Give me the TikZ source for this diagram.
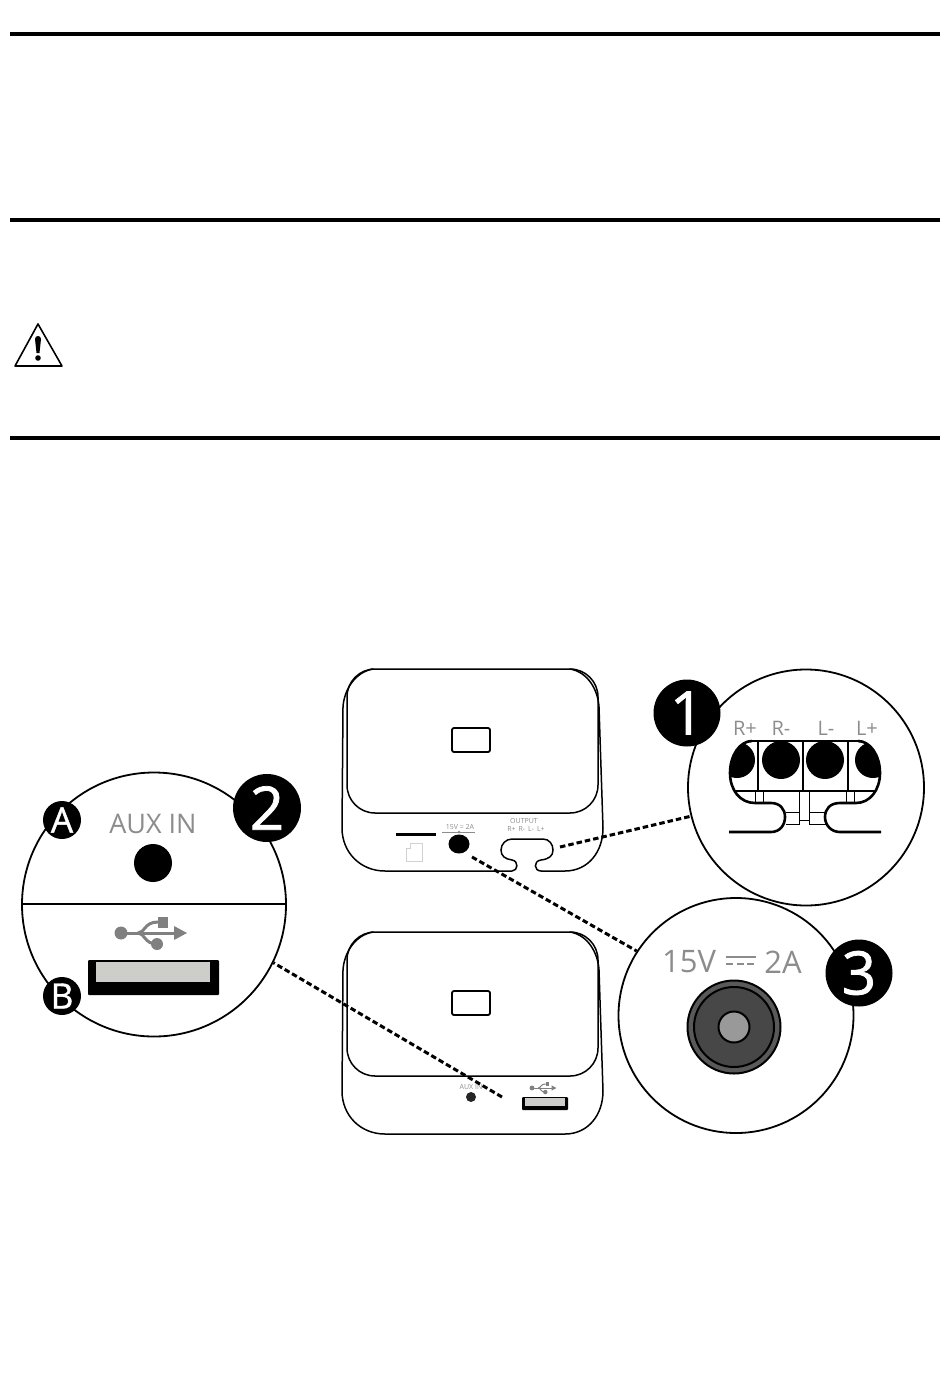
\documentclass[tikz,border=0pt]{standalone}
\usepackage{fontspec}
\usetikzlibrary{shapes.geometric}
\setmainfont{Open Sans}
\newfontfamily\badgefont[FakeBold=1.2]{Open Sans}
\definecolor{labelgray}{HTML}{8C8C8C}
\definecolor{usbgray}{HTML}{808080}
\definecolor{slotgray}{HTML}{CDCDC9}
\tikzset{
    lidtop/.pic={
        \draw[bodyline, rounded corners=28] (0,0) rectangle (251,144);
        \draw[line width=1.8, rounded corners=2] (105,59) rectangle (143,83);
    },
    usbsign/.pic={
        \fill[usbgray] (0,0) circle (6.5);
        \fill[usbgray] (36,11) circle (6);
        \fill[usbgray] (37,-16) rectangle (47,-5);
        \fill[usbgray] (53,-7) -- (66,0) -- (53,7) -- cycle;
        \draw[usbgray, line width=#1] (0,0) -- (54,0);
        \draw[usbgray, line width=#1] (17,0) .. controls (24,0) and (23,-11) .. (37,-11);
        \draw[usbgray, line width=#1] (17,0) .. controls (24,0) and (23,11) .. (36,11);
    }
}

\begin{document}
\begin{tikzpicture}[
    x=1pt, y=-1pt,
    rulebar/.style={line width=4pt},
    detail/.style={circle, draw=black, line width=1.8pt, inner sep=0pt},
    badge/.style={circle, fill=black, text=white, inner sep=0pt},
    bodyline/.style={line width=1.5pt, line cap=round},
    hole/.style={circle, fill=black, inner sep=0pt},
    leader/.style={line width=3pt, dash pattern=on 5.5pt off 3pt},
    biglabel/.style={text=labelgray, inner sep=0pt},
    tinylabel/.style={text=labelgray, font=\fontsize{7}{8}\selectfont, inner sep=0pt},
    thinline/.style={line width=0.7pt}
]
\useasboundingbox (0,0) rectangle (950,1397);

% Rules
\coordinate (ruleaL) at (10,34);
\coordinate (ruleaR) at (940,34);
\coordinate (rulebL) at (10,220);
\coordinate (rulebR) at (940,220);
\coordinate (rulecL) at (10,438);
\coordinate (rulecR) at (940,438);
\draw[rulebar] (ruleaL) -- (ruleaR);
\draw[rulebar] (rulebL) -- (rulebR);
\draw[rulebar] (rulecL) -- (rulecR);

% Warning sign
\draw[line width=1.6pt, line join=round] (38,324) -- (62,366) -- (15,366) -- cycle;
\fill (35,339) .. controls (35,335) and (41,335) .. (41,339) -- (39.5,353) -- (36.5,353) -- cycle;
\fill (38,358) circle (2.8);

% Upper device
\pic at (347,669) {lidtop};
\draw[bodyline] (373,669) .. controls (355,672) and (344,690) .. (343,707) -- (342,828)
    .. controls (342,852) and (360,871) .. (385,871) -- (512,871)
    .. controls (518,871) and (519,861) .. (512,860)
    .. controls (505,859) and (501,856) .. (501,850)
    .. controls (501,844) and (506,839) .. (512,839) -- (543,839)
    .. controls (549,839) and (553,844) .. (553,850)
    .. controls (553,856) and (549,859) .. (541,860)
    .. controls (533,861) and (534,871) .. (541,871) -- (565,871)
    .. controls (588,871) and (603,852) .. (603,828) -- (599,707)
    .. controls (598,690) and (588,672) .. (570,669);
\fill (396,833) rectangle (436,836);
\draw[labelgray!40, line width=0.5pt] (410,843) -- (422,843) -- (422,861) -- (406,861) -- (406,848) -- (410,848) -- cycle;
\node[tinylabel] (powertiny) at (460,827) {15V \raisebox{0.5pt}{=} 2A};
\draw[labelgray, line width=0.5pt] (442,832) -- (475,832);
\fill[labelgray] (459,832) circle (1.5);
\node[hole, ellipse, minimum width=21pt, minimum height=19pt] (powerhole) at (459,844) {};
\node[tinylabel] (outputtiny) at (524,821) {OUTPUT};
\node[tinylabel] (termstiny) at (526,829) {R+ \,R- \,L- \,L+};
\coordinate (outputport) at (560,847);
\coordinate (powerport) at (472,857);

% Lower device
\pic at (347,932) {lidtop};
\draw[bodyline] (373,932) .. controls (355,935) and (344,953) .. (343,970) -- (342,1091)
    .. controls (342,1115) and (360,1134) .. (385,1134) -- (565,1134)
    .. controls (588,1134) and (603,1115) .. (603,1091) -- (599,970)
    .. controls (598,953) and (588,935) .. (570,932);
\node[tinylabel] (auxtiny) at (471,1087) {AUX IN};
\node[hole, minimum size=10pt, fill=black!85] (auxholesmall) at (471,1097) {};
\pic[scale=.37] at (532,1088) {usbsign={1pt}};
\fill[rounded corners=1] (522,1097) rectangle (568,1110);
\fill[slotgray] (525,1098) rectangle (565,1106);
\coordinate (auxport) at (502,1097);

% Detail circles
\node[detail, minimum size=236pt] (detailone) at (806,787.5) {};
\node[detail, minimum size=264pt] (detailtwo) at (154,904.5) {};
\node[detail, minimum size=235pt] (detailthree) at (736,1015.5) {};

% Leaders
\draw[leader] (outputport) -- (detailone.194);
\draw[leader] (powerport) -- (detailthree.147);
\draw[leader] (auxport) -- (detailtwo.334);

% Terminals
\begin{scope}
    \clip (752,741) -- (858,741) .. controls (870,741) and (880,755) .. (880,773)
        -- (880,803) -- (730,803) -- (730,773) .. controls (730,755) and (740,741) .. (752,741);
    \fill (737,760) circle (18);
    \fill (873,760) circle (18);
\end{scope}
\node[hole, minimum size=38pt] (holerm) at (781,760) {};
\node[hole, minimum size=38pt] (holelm) at (825,760) {};
\draw[line width=2.4pt] (752,741) -- (858,741);
\draw[line width=2.6pt] (729,832) -- (771,832) .. controls (780,832) and (785,825) .. (785,817)
    .. controls (785,809) and (780,803) .. (771,803) -- (755,803)
    .. controls (740,803) and (730,790) .. (730,773) .. controls (730,755) and (740,741) .. (752,741);
\draw[line width=2.6pt] (881,832) -- (840,832) .. controls (831,832) and (825,825) .. (825,817)
    .. controls (825,809) and (830,803) .. (840,803) -- (856,803)
    .. controls (870,803) and (880,790) .. (880,773) .. controls (880,755) and (870,741) .. (858,741);
\draw[line width=1.2pt] (758,741) -- (758,791);
\draw[line width=1.2pt] (803,741) -- (803,791);
\draw[line width=1.2pt] (848,741) -- (848,791);
\draw[line width=1.4pt] (734,791) -- (876,791);
\draw[thinline] (755,791) -- (755,803);
\draw[thinline] (763,791) -- (763,803);
\draw[thinline] (846,791) -- (846,803);
\draw[thinline] (854,791) -- (854,803);
\draw[thinline] (799,791) -- (799,824) -- (786,824);
\draw[thinline] (809,791) -- (809,824) -- (826,824);
\draw[thinline] (786,812) -- (799,812);
\draw[thinline] (809,812) -- (826,812);
\draw[thinline] (799,820) -- (809,820);
\node[biglabel, font=\fontsize{20}{22}\selectfont] (labelrp) at (745,728) {R+};
\node[biglabel, font=\fontsize{20}{22}\selectfont] (labelrm) at (781,728) {R-};
\node[biglabel, font=\fontsize{20}{22}\selectfont] (labellm) at (826,728) {L-};
\node[biglabel, font=\fontsize{20}{22}\selectfont] (labellp) at (867,728) {L+};

% Aux and USB
\coordinate (dividerL) at (22,904);
\coordinate (dividerR) at (286,904);
\draw[line width=1.8pt] (dividerL) -- (dividerR);
\node[biglabel, font=\fontsize{27}{29}\selectfont] (auxlabel) at (153,824) {AUX IN};
\node[hole, minimum size=38pt] (auxhole) at (153,863) {};
\pic at (121,933) {usbsign={3pt}};
\fill[rounded corners=1] (88,960) rectangle (219,995);
\fill[slotgray] (96,962) rectangle (210,982);

% Power jack
\node[biglabel, font=\fontsize{31}{33}\selectfont] (powervolt) at (689,962) {15V};
\node[biglabel, font=\fontsize{31}{33}\selectfont] (poweramp) at (783,962) {2A};
\draw[labelgray, line width=1.5pt] (726,957) -- (756,957);
\draw[labelgray, line width=1.5pt, dash pattern=on 7pt off 3.5pt] (726,964) -- (756,964);
\node[circle, draw=black, fill=black!65, line width=2pt, minimum size=93pt, inner sep=0pt] (jackouter) at (734,1027) {};
\node[circle, draw=black, fill=black!72, line width=2pt, minimum size=80pt, inner sep=0pt] (jackinner) at (734,1027) {};
\node[circle, draw=black, fill=black!40, line width=2pt, minimum size=31pt, inner sep=0pt] (jackpin) at (734,1027) {};

% Badges
\node[badge, minimum size=67pt, font=\fontsize{60}{62}\badgefont] (badgeone) at (687,713) {1};
\node[badge, minimum size=68pt, font=\fontsize{60}{62}\badgefont] (badgetwo) at (267,808) {2};
\node[badge, minimum size=67pt, font=\fontsize{60}{62}\badgefont] (badgethree) at (859,973) {3};
\node[badge, minimum size=38pt, font=\fontsize{35}{37}\badgefont] (badgea) at (62,820) {A};
\node[badge, minimum size=38pt, font=\fontsize{35}{37}\badgefont] (badgeb) at (62,996) {B};

\end{tikzpicture}
\end{document}
